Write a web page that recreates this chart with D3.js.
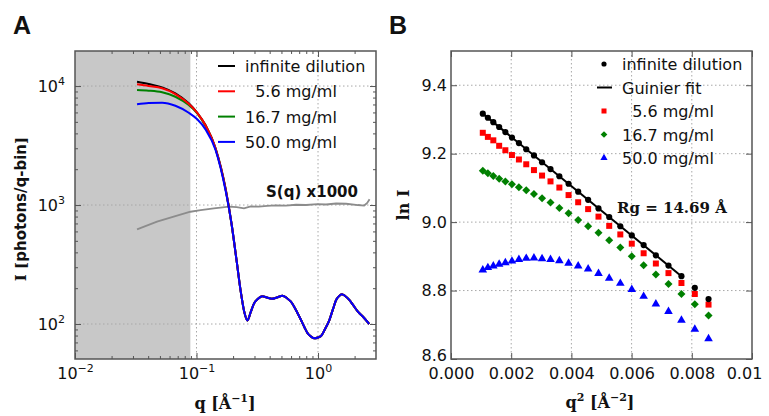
<!DOCTYPE html>
<html lang="en">
<head>
<meta charset="UTF-8">
<title>SAXS profiles and Guinier plot</title>
<script src="https://cdnjs.cloudflare.com/ajax/libs/d3/7.8.5/d3.min.js"></script>
<style>
  body { margin: 0; background: #fff; }
  svg text { fill: #111; }
</style>
</head>
<body>
<svg id="chart" width="769" height="416" font-family="DejaVu Sans, sans-serif"></svg>
<script>
// ---- panel A data: I(q) curves (log-log) ----
const qA = [0.0324, 0.0404, 0.0521, 0.0670, 0.0863, 0.1014, 0.1186, 0.1435, 0.1738,
  0.1946, 0.2143, 0.2313, 0.2473, 0.2626, 0.2793, 0.2978, 0.319, 0.3475, 0.3793, 0.417,
  0.458, 0.5105, 0.5546, 0.598, 0.658, 0.724, 0.773, 0.822, 0.875, 0.931, 1.0, 1.059,
  1.143, 1.240, 1.330, 1.409, 1.492, 1.570, 1.671, 1.815, 1.946, 2.128, 2.355, 2.637];
// low-q part differs by concentration (first 9 points)
const lowInfinite = [10870, 10390, 9750, 8680, 7160, 5965, 4700, 2995, 1362];
const low5_6 = [10330, 10000, 9570, 8570, 7100, 5950, 4680, 2980, 1350];
const low16_7 = [9250, 9140, 8850, 8130, 6920, 5900, 4600, 2960, 1340];
const low50_0 = [7015, 7195, 7240, 6830, 5965, 5250, 4325, 2900, 1310];
// high-q part, the curves coincide here
const highQ = [686, 334, 187, 126, 107, 126, 149, 162, 171, 167, 163, 167, 173, 165, 154,
  131, 108, 94, 83.5, 78.5, 75.8, 77, 79.3, 90.8, 108, 134, 159, 172, 178, 172, 159, 144,
  127, 114.5, 100];
// structure factor S(q) x1000
const qS = [0.0324, 0.0473, 0.0649, 0.0891, 0.108, 0.139, 0.185, 0.214, 0.246, 0.279,
  0.325, 0.383, 0.450, 0.544, 0.658, 0.796, 0.994, 1.164, 1.409, 1.703, 2.128, 2.399, 2.54, 2.655];
const sq = [625, 724, 798, 878, 905, 938, 968, 960, 938, 975, 968, 985, 995, 990, 1005,
  1000, 1019, 1010, 1030, 1025, 1000, 990, 1040, 1117];

const seriesA = [
  {name: "infinite dilution", color: "#000000", vals: lowInfinite.concat(highQ)},
  {name: "  5.6 mg/ml", color: "#ff0000", vals: low5_6.concat(highQ)},
  {name: "16.7 mg/ml", color: "#008000", vals: low16_7.concat(highQ)},
  {name: "50.0 mg/ml", color: "#0000ff", vals: low50_0.concat(highQ)}
];
const drawOrder = [0, 2, 1, 3];

// ---- panel B data: Guinier plot ----
const q2 = [0.001056, 0.001225, 0.001406, 0.0016, 0.001806, 0.002025, 0.002256, 0.0025,
  0.002756, 0.003025, 0.003306, 0.0036, 0.003906, 0.004225, 0.004556, 0.0049, 0.005256,
  0.005625, 0.006006, 0.0064, 0.006806, 0.007225, 0.007656, 0.0081, 0.008556];
const lnInfinite = [9.317, 9.305, 9.292, 9.278, 9.263, 9.247, 9.231, 9.213, 9.195, 9.175,
  9.155, 9.134, 9.112, 9.089, 9.065, 9.040, 9.015, 8.988, 8.961, 8.933, 8.903, 8.873,
  8.842, 8.808, 8.775];
const ln5_6 = [9.261, 9.249, 9.239, 9.223, 9.210, 9.196, 9.183, 9.169, 9.152, 9.136, 9.119,
  9.101, 9.079, 9.058, 9.038, 9.016, 8.989, 8.964, 8.937, 8.909, 8.879, 8.851, 8.822, 8.790, 8.759];
const ln16_7 = [9.150, 9.143, 9.135, 9.127, 9.119, 9.111, 9.102, 9.093, 9.082, 9.070, 9.057,
  9.041, 9.026, 9.006, 8.988, 8.969, 8.947, 8.926, 8.900, 8.874, 8.847, 8.819, 8.790, 8.760, 8.727];
const ln50_0 = [8.860, 8.867, 8.872, 8.877, 8.881, 8.886, 8.891, 8.894, 8.895, 8.893, 8.891,
  8.887, 8.880, 8.872, 8.863, 8.850, 8.836, 8.821, 8.803, 8.783, 8.761, 8.739, 8.713, 8.687, 8.659];
const fitQ2 = [0.001056, 0.007656];
const fitLn = [9.317, 8.842];

const xTicksB = [0, 0.002, 0.004, 0.006, 0.008, 0.01];
const yTicksB = [8.6, 8.8, 9.0, 9.2, 9.4];

const svg = d3.select("#chart");
const SERIF = "DejaVu Serif, serif";

// ================= panel A =================
const A = {l: 75, r: 376, t: 51, b: 359};
const xA = d3.scaleLog().domain([0.01, 3.0]).range([A.l, A.r]);
const yA = d3.scaleLog().domain([50.8, 19700]).range([A.b, A.t]);

const gA = svg.append("g");
gA.append("clipPath").attr("id", "clipA").append("rect")
  .attr("x", A.l).attr("y", A.t).attr("width", A.r - A.l).attr("height", A.b - A.t);

// excluded low-q region
gA.append("rect").attr("x", A.l).attr("y", A.t)
  .attr("width", xA(0.089) - A.l).attr("height", A.b - A.t)
  .attr("fill", "#c8c8c8");

// grid
const gridStyle = g => g.attr("stroke", "#a8a8a8").attr("stroke-width", 1).attr("stroke-dasharray", "1.5,2.5");
[0.1, 1].forEach(v => gA.append("line").attr("x1", xA(v)).attr("x2", xA(v))
  .attr("y1", A.t).attr("y2", A.b).call(gridStyle));
[100, 1000, 10000].forEach(v => gA.append("line").attr("x1", A.l).attr("x2", A.r)
  .attr("y1", yA(v)).attr("y2", yA(v)).call(gridStyle));

// curves
const lineA = d3.line().x((d, i) => xA(qA[i])).y(d => yA(d)).curve(d3.curveMonotoneX);
const plotA = gA.append("g").attr("clip-path", "url(#clipA)");
plotA.append("path").datum(sq)
  .attr("d", d3.line().x((d, i) => xA(qS[i])).y(d => yA(d)))
  .attr("fill", "none").attr("stroke", "#8c8c8c").attr("stroke-width", 1.8);
drawOrder.forEach(k => {
  plotA.append("path").datum(seriesA[k].vals).attr("d", lineA)
    .attr("fill", "none").attr("stroke", seriesA[k].color).attr("stroke-width", 2);
});

// axes with inside ticks
function logTicks(lo, hi) {
  const out = [];
  for (let e = -3; e <= 5; e++) for (let m = 2; m <= 9; m++) {
    const v = m * Math.pow(10, e);
    if (v > lo && v < hi) out.push(v);
  }
  return out;
}
function sup(sel) {
  sel.selectAll(".tick text").each(function(d) {
    const t = d3.select(this);
    const e = Math.round(Math.log10(d));
    t.text("10");
    t.append("tspan").attr("dy", -7).attr("font-size", 11).text(e < 0 ? "\u2212" + (-e) : e);
  });
}
const axStyle = g => {
  g.select(".domain").remove();
  g.attr("font-family", null);
  g.selectAll(".tick line").attr("stroke", "#555");
  g.selectAll(".tick text").attr("font-size", 16).attr("fill", "#111");
};
gA.append("g").attr("transform", `translate(0,${A.b})`)
  .call(d3.axisBottom(xA).tickValues([0.01, 0.1, 1]).tickSizeInner(-6).tickSizeOuter(0).tickPadding(9))
  .call(axStyle).call(sup);
gA.append("g").attr("transform", `translate(0,${A.b})`)
  .call(d3.axisBottom(xA).tickValues(logTicks(0.01, 3)).tickSizeInner(-3).tickSizeOuter(0).tickFormat(""))
  .call(axStyle);
gA.append("g").attr("transform", `translate(0,${A.t})`)
  .call(d3.axisTop(xA).tickValues(logTicks(0.01, 3)).tickSizeInner(-3).tickSizeOuter(0).tickFormat(""))
  .call(axStyle);
gA.append("g").attr("transform", `translate(0,${A.t})`)
  .call(d3.axisTop(xA).tickValues([0.1, 1]).tickSizeInner(-6).tickSizeOuter(0).tickFormat(""))
  .call(axStyle);
gA.append("g").attr("transform", `translate(${A.l},0)`)
  .call(d3.axisLeft(yA).tickValues([100, 1000, 10000]).tickSizeInner(-6).tickSizeOuter(0).tickPadding(10))
  .call(axStyle).call(sup);
gA.append("g").attr("transform", `translate(${A.l},0)`)
  .call(d3.axisLeft(yA).tickValues(logTicks(50.8, 19700)).tickSizeInner(-3).tickSizeOuter(0).tickFormat(""))
  .call(axStyle);
gA.append("g").attr("transform", `translate(${A.r},0)`)
  .call(d3.axisRight(yA).tickValues(logTicks(50.8, 19700)).tickSizeInner(-3).tickSizeOuter(0).tickFormat(""))
  .call(axStyle);
gA.append("g").attr("transform", `translate(${A.r},0)`)
  .call(d3.axisRight(yA).tickValues([100, 1000, 10000]).tickSizeInner(-6).tickSizeOuter(0).tickFormat(""))
  .call(axStyle);

gA.append("rect").attr("x", A.l).attr("y", A.t).attr("width", A.r - A.l).attr("height", A.b - A.t)
  .attr("fill", "none").attr("stroke", "#555").attr("stroke-width", 1.5);

// legend A
seriesA.forEach((s, i) => {
  const y = 66 + i * 25.3;
  gA.append("line").attr("x1", 218).attr("x2", 235).attr("y1", y).attr("y2", y)
    .attr("stroke", s.color).attr("stroke-width", 2);
  gA.append("text").attr("x", 245).attr("y", y + 6).attr("font-size", 16)
    .style("white-space", "pre").text(s.name);
});
gA.append("text").attr("x", 312).attr("y", 197).attr("text-anchor", "middle")
  .attr("font-size", 15).attr("font-weight", "bold").text("S(q) x1000");

// labels A
const xlA = gA.append("text").attr("x", 225).attr("y", 409).attr("text-anchor", "middle")
  .style("font-family", SERIF).attr("font-weight", "bold").attr("font-size", 16);
xlA.append("tspan").text("q [\u00c5");
xlA.append("tspan").attr("dy", -7).attr("font-size", 11).text("\u22121");
xlA.append("tspan").attr("dy", 7).text("]");
const ylA = gA.append("text").attr("transform", "translate(26,209) rotate(-90)").attr("text-anchor", "middle")
  .attr("font-weight", "bold").attr("font-size", 15);
ylA.append("tspan").style("font-family", SERIF).text("I [");
ylA.append("tspan").text("photons/q-bin");
ylA.append("tspan").style("font-family", SERIF).text("]");
svg.append("text").attr("x", 13).attr("y", 34).attr("font-size", 25).attr("font-weight", "bold")
  .style("font-family", "Liberation Sans, Arial, sans-serif").text("A");

// ================= panel B =================
const B = {l: 451, r: 752, t: 51, b: 359};
const xB = d3.scaleLinear().domain([0, 0.01]).range([B.l, B.r]);
const yB = d3.scaleLinear().domain([8.6, 9.5]).range([B.b, B.t]);
const gB = svg.append("g");

xTicksB.slice(1, -1).forEach(v => gB.append("line").attr("x1", xB(v)).attr("x2", xB(v))
  .attr("y1", B.t).attr("y2", B.b).call(gridStyle));
yTicksB.slice(1).forEach(v => gB.append("line").attr("x1", B.l).attr("x2", B.r)
  .attr("y1", yB(v)).attr("y2", yB(v)).call(gridStyle));

gB.append("g").attr("transform", `translate(0,${B.b})`)
  .call(d3.axisBottom(xB).tickValues(xTicksB).tickSizeInner(-6).tickSizeOuter(0).tickPadding(9)
    .tickFormat(d => d >= 0.0099 ? "0.01" : d3.format(".3f")(d)))
  .call(axStyle);
gB.selectAll("g.tick text").filter(d => d >= 0.0099).attr("dx", -8);
gB.append("g").attr("transform", `translate(0,${B.t})`)
  .call(d3.axisTop(xB).tickValues(xTicksB).tickSizeInner(-6).tickSizeOuter(0).tickFormat(""))
  .call(axStyle);
gB.append("g").attr("transform", `translate(${B.l},0)`)
  .call(d3.axisLeft(yB).tickValues(yTicksB).tickSizeInner(-6).tickSizeOuter(0).tickPadding(4)
    .tickFormat(d3.format(".1f")))
  .call(axStyle);
gB.selectAll("g.tick text").filter(d => d === 8.6).attr("dy", "0.1em");
gB.append("g").attr("transform", `translate(${B.r},0)`)
  .call(d3.axisRight(yB).tickValues(yTicksB).tickSizeInner(-6).tickSizeOuter(0).tickFormat(""))
  .call(axStyle);

// markers (diamond = square rotated 45 degrees)
const seriesB = [
  {name: "infinite dilution", color: "#000000", vals: lnInfinite, type: d3.symbolCircle, size: 30, rot: 0},
  {name: "  5.6 mg/ml", color: "#ff0000", vals: ln5_6, type: d3.symbolSquare, size: 36, rot: 0},
  {name: "16.7 mg/ml", color: "#008000", vals: ln16_7, type: d3.symbolSquare, size: 32, rot: 45},
  {name: "50.0 mg/ml", color: "#0000ff", vals: ln50_0, type: d3.symbolTriangle, size: 32, rot: 0}
];
seriesB.slice().reverse().forEach(s => {
  gB.append("g").selectAll("path").data(s.vals).join("path")
    .attr("transform", (d, i) => `translate(${xB(q2[i])},${yB(d)}) rotate(${s.rot})`)
    .attr("d", d3.symbol().type(s.type).size(s.size)).attr("fill", s.color);
});
gB.append("path").datum(fitLn)
  .attr("d", d3.line().x((d, i) => xB(fitQ2[i])).y(d => yB(d)))
  .attr("stroke", "#000").attr("stroke-width", 2).attr("fill", "none");

gB.append("rect").attr("x", B.l).attr("y", B.t).attr("width", B.r - B.l).attr("height", B.b - B.t)
  .attr("fill", "none").attr("stroke", "#555").attr("stroke-width", 1.5);

// legend B
const legB = [seriesB[0], {name: "Guinier fit", line: true}, seriesB[1], seriesB[2], seriesB[3]];
legB.forEach((s, i) => {
  const y = 64 + i * 23.5;
  if (s.line) {
    gB.append("line").attr("x1", 597).attr("x2", 612).attr("y1", y).attr("y2", y)
      .attr("stroke", "#000").attr("stroke-width", 2);
  } else {
    gB.append("path").attr("transform", `translate(604,${y}) rotate(${s.rot})`)
      .attr("d", d3.symbol().type(s.type).size(s.size * 0.7)).attr("fill", s.color);
  }
  gB.append("text").attr("x", 622).attr("y", y + 6).attr("font-size", 16)
    .style("white-space", "pre").text(s.name);
});
gB.append("text").attr("x", 617).attr("y", 213).style("font-family", SERIF)
  .attr("font-weight", "bold").attr("font-size", 15).text("Rg = 14.69 \u00c5");

// labels B
const xl = gB.append("text").attr("x", 600).attr("y", 408).attr("text-anchor", "middle")
  .style("font-family", SERIF).attr("font-weight", "bold").attr("font-size", 16);
xl.append("tspan").text("q");
xl.append("tspan").attr("dy", -7).attr("font-size", 11).text("2");
xl.append("tspan").attr("dy", 7).text(" [\u00c5");
xl.append("tspan").attr("dy", -7).attr("font-size", 11).text("\u22122");
xl.append("tspan").attr("dy", 7).text("]");
gB.append("text").attr("transform", "translate(409,205) rotate(-90)").attr("text-anchor", "middle")
  .style("font-family", SERIF).attr("font-weight", "bold").attr("font-size", 16)
  .text("ln I");
svg.append("text").attr("x", 389).attr("y", 34).attr("font-size", 25).attr("font-weight", "bold")
  .style("font-family", "Liberation Sans, Arial, sans-serif").text("B");
</script>
</body>
</html>
